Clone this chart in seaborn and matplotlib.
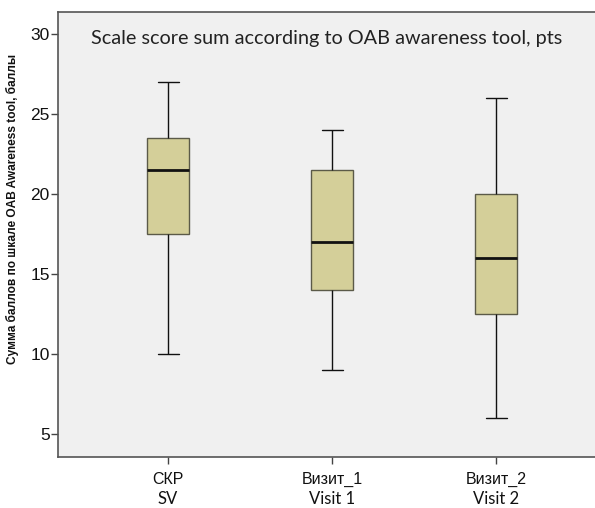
import matplotlib
matplotlib.use("Agg")
import matplotlib.pyplot as plt
import seaborn as sns
import pandas as pd

# Five-number summaries per visit: lower whisker, Q1, median, Q3, upper whisker
categories = ["СКР", "Визит_1", "Визит_2"]
categories_en = ["SV", "Visit 1", "Visit 2"]
sv_summary = [10, 17.5, 21.5, 23.5, 27]
visit1_summary = [9, 14, 17, 21.5, 24]
visit2_summary = [6, 12.5, 16, 20, 26]
yticks = [5, 10, 15, 20, 25, 30]

rows = []
for cat, vals in zip(categories, [sv_summary, visit1_summary, visit2_summary]):
    for v in vals:
        rows.append({"visit": cat, "score": v})
df = pd.DataFrame(rows)

sns.set_theme(style="white")
plt.rcParams["font.family"] = ["Liberation Sans", "DejaVu Sans"]

fig = plt.figure(figsize=(5.95, 5.08), dpi=100)
ax = fig.add_axes([58 / 595, 51 / 508, 1 - 58 / 595, (457 - 12) / 508])
ax.set_facecolor("#f0f0f0")

sns.boxplot(
    data=df, x="visit", y="score", order=categories,
    color="#d4cf99", saturation=1, width=0.256, whis=1.5, fliersize=0,
    linewidth=1.0, linecolor="#111111",
    boxprops=dict(edgecolor="#5b5a48", linewidth=1.0),
    medianprops=dict(color="#111111", linewidth=2.0),
    whiskerprops=dict(color="#111111", linewidth=1.0),
    capprops=dict(color="#111111", linewidth=1.0),
    ax=ax,
)

ax.set_xlim(-0.67, 2.6)
ax.set_ylim(3.56, 31.375)
ax.set_yticks(yticks)
ax.set_yticklabels([str(t) for t in yticks], fontsize=12.5, color="#111111")
ax.tick_params(axis="both", direction="out", length=5, width=1, color="#444444",
               left=True, bottom=True)
ax.tick_params(axis="y", pad=1)
ax.set_xticks(range(len(categories)))
ax.set_xticklabels(categories, fontsize=11.5, color="#111111")
ax.tick_params(axis="x", pad=6)

for i, lab in enumerate(categories_en):
    ax.text(i, -0.095, lab, transform=ax.get_xaxis_transform(), ha="center",
            va="center", fontsize=12, family=["Lato", "DejaVu Sans"], color="#111111")

ax.set_xlabel("")
ax.set_ylabel("Сумма баллов по шкале OAB Awareness tool, баллы",
              fontsize=8.6, fontweight="bold", color="#111111")
ax.yaxis.set_label_coords(-0.072, 0.557)

ax.spines["right"].set_visible(False)
for side in ["left", "top", "bottom"]:
    ax.spines[side].set_visible(True)
    ax.spines[side].set_color("#555555")
    ax.spines[side].set_linewidth(1.2)

ax.text(0.5, 0.94, "Scale score sum according to OAB awareness tool, pts",
        transform=ax.transAxes, ha="center", va="center", fontsize=14.3,
        family=["Lato", "DejaVu Sans"], color="#222222")

fig.savefig("out.png", dpi=100, facecolor="white")
